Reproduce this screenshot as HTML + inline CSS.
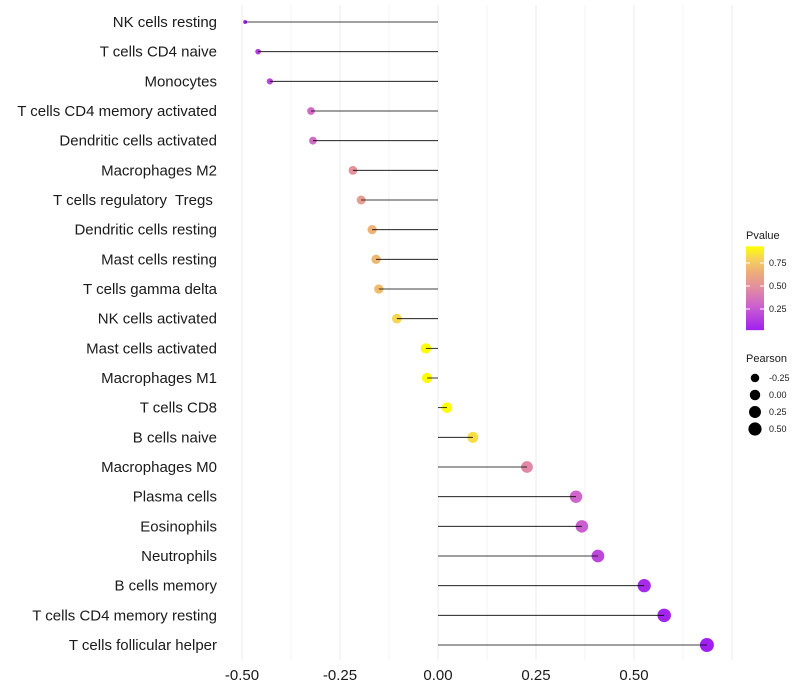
<!DOCTYPE html>
<html><head><meta charset="utf-8"><style>
html,body{margin:0;padding:0;background:#fff;}
svg{display:block;font-family:"Liberation Sans",sans-serif;}
text{white-space:pre;}
</style></head><body>
<svg id="chart" width="800" height="700"></svg>
<script>
const categories=["NK cells resting","T cells CD4 naive","Monocytes","T cells CD4 memory activated","Dendritic cells activated","Macrophages M2","T cells regulatory  Tregs ","Dendritic cells resting","Mast cells resting","T cells gamma delta","NK cells activated","Mast cells activated","Macrophages M1","T cells CD8","B cells naive","Macrophages M0","Plasma cells","Eosinophils","Neutrophils","B cells memory","T cells CD4 memory resting","T cells follicular helper"];
const pearson=[-0.492,-0.459,-0.429,-0.324,-0.319,-0.217,-0.196,-0.168,-0.158,-0.151,-0.105,-0.031,-0.028,0.023,0.089,0.227,0.352,0.367,0.408,0.526,0.577,0.686];
const pvalue=[0.06,0.14,0.18,0.32,0.32,0.5,0.55,0.66,0.68,0.7,0.8,0.92,0.92,0.92,0.82,0.45,0.3,0.27,0.18,0.06,0.04,0.02];
const xTicks=[-0.5,-0.25,0,0.25,0.5];
const xTickLabels=["-0.50","-0.25","0.00","0.25","0.50"];
const pTicks=[0.25,0.5,0.75];
const sizeTicks=[-0.25,0,0.25,0.5];

const NS="http://www.w3.org/2000/svg";
const svg=document.getElementById('chart');
function mk(t,a,p){const e=document.createElementNS(NS,t);for(const k in a)e.setAttribute(k,a[k]);(p||svg).appendChild(e);return e;}
const x=v=>438+v*392;
const y=i=>22+i*(623/21);
const pmin=0.02,pmax=0.92;
const stops=[[0,[160,32,240]],[0.3,[205,100,205]],[0.5,[226,140,160]],[0.7,[238,175,120]],[0.85,[246,210,90]],[1,[255,255,0]]];
function colT(t){t=Math.max(0,Math.min(1,t));
 for(let k=1;k<stops.length;k++){if(t<=stops[k][0]){const [t0,a]=stops[k-1],[t1,b]=stops[k];const f=(t-t0)/(t1-t0);
 return `rgb(${a.map((c,i)=>Math.round(c+(b[i]-c)*f)).join(',')})`;}}
 return 'rgb(255,255,0)';}
const col=p=>colT((p-pmin)/(pmax-pmin));
const smin=-0.49,smax=0.69;
const r=v=>2+5*Math.sqrt(Math.max(0,(v-smin)/(smax-smin)));

// grid
for(let k=0;k<=10;k++){
 const v=-0.5+k*0.125;
 const g=mk('line',{x1:x(v),x2:x(v),y1:5,y2:660,stroke:'#ebebeb','stroke-width':k%2===0?1:0.6});
 
}
categories.forEach((c,i)=>{
 const t=mk('text',{x:217,y:y(i)+5,'text-anchor':'end','font-size':15,fill:'#1a1a1a'});t.textContent=c;
 
 const pt=mk('circle',{cx:x(pearson[i]),cy:y(i),r:r(pearson[i]),fill:col(pvalue[i])});
 
 const ln=mk('line',{x1:x(0),x2:x(pearson[i]),y1:y(i),y2:y(i),stroke:'#000','stroke-width':0.8});
 
});
xTicks.forEach((v,i)=>{
 const t=mk('text',{x:x(v),y:680,'text-anchor':'middle','font-size':15,fill:'#1a1a1a'});t.textContent=xTickLabels[i];
 
});
// pvalue legend
const lg=mk('g',{});
const tt=mk('text',{x:746,y:239,'font-size':11,fill:'#1a1a1a'},lg);tt.textContent='Pvalue';
const defs=mk('defs',{});const gr=mk('linearGradient',{id:'pg',x1:0,y1:1,x2:0,y2:0},defs);
stops.forEach(s=>mk('stop',{offset:s[0],'stop-color':colT(s[0])},gr));
const py=p=>332-p*92;
const bar=mk('rect',{x:746,y:py(pmax)-1,width:18,height:py(pmin)-py(pmax)+1,fill:'url(#pg)'},lg);

pTicks.forEach(p=>{
 mk('line',{x1:746,x2:750,y1:py(p),y2:py(p),stroke:'#fff'},lg);mk('line',{x1:760,x2:764,y1:py(p),y2:py(p),stroke:'#fff'},lg);
 const t=mk('text',{x:769,y:py(p)+3,'font-size':9,fill:'#1a1a1a'},lg);t.textContent=p.toFixed(2);
});
// size legend
const sg=mk('g',{});
const st=mk('text',{x:746,y:362,'font-size':11,fill:'#1a1a1a'},sg);st.textContent='Pearson';
sizeTicks.forEach((v,i)=>{
 const cy=378+i*17;
 mk('circle',{cx:755,cy:cy,r:r(v),fill:'#000'},sg);
 const t=mk('text',{x:769,y:cy+3,'font-size':9,fill:'#1a1a1a'},sg);t.textContent=v.toFixed(2);
});
</script>
</body></html>
